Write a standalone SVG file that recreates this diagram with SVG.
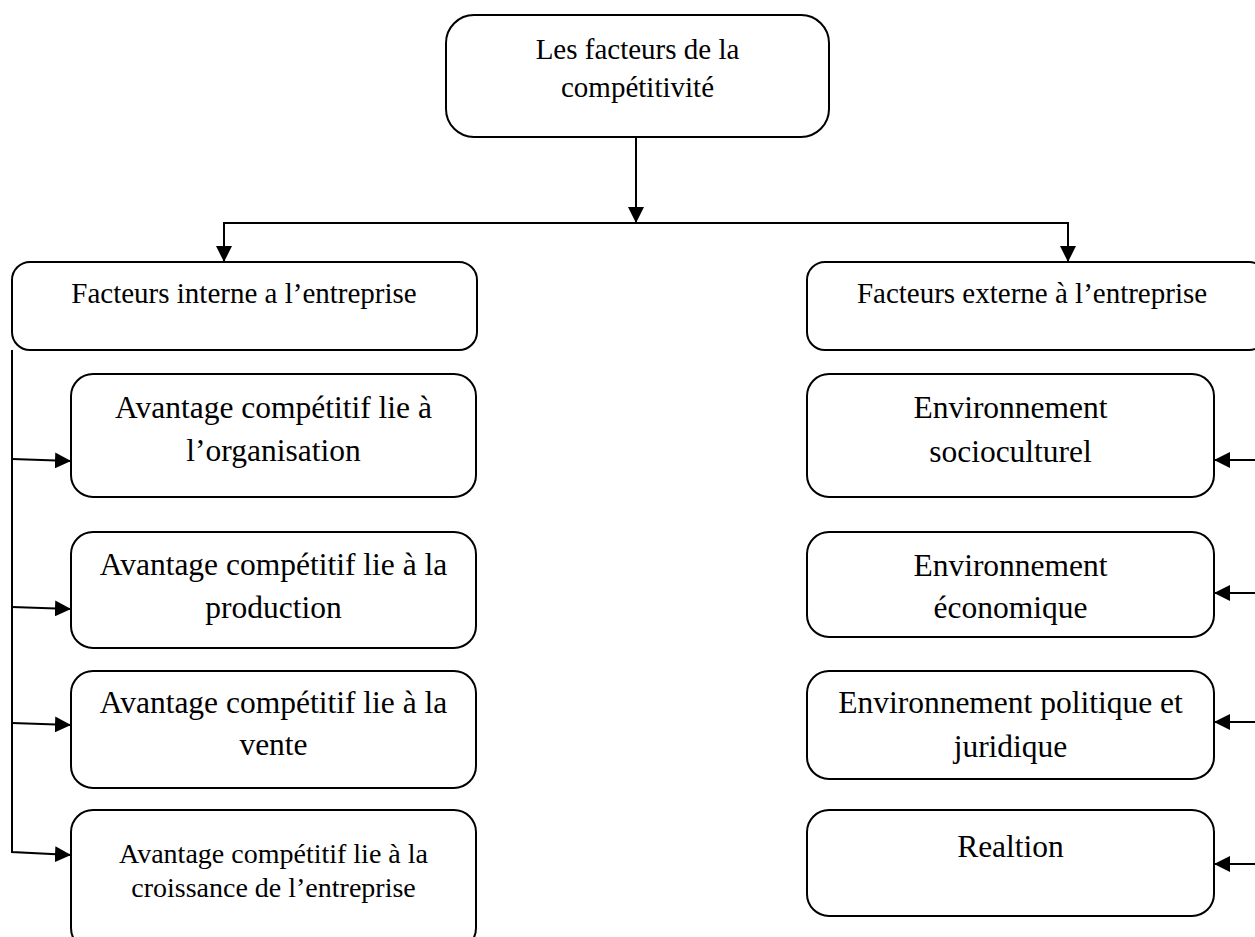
<svg xmlns="http://www.w3.org/2000/svg" width="1255" height="937" viewBox="0 0 1255 937">
<defs>
<marker id="ah" markerUnits="userSpaceOnUse" markerWidth="16" markerHeight="16" viewBox="0 0 16 16" refX="16" refY="8" orient="auto">
<path d="M0,0 L16,8 L0,16 Z" fill="#000"/>
</marker>
</defs>
<style>
.box{fill:#fff;stroke:#000;stroke-width:2}
.t{font-family:"Liberation Serif","Times New Roman",serif;fill:#000;text-anchor:middle}
.con{fill:none;stroke:#000;stroke-width:2}
</style>
<rect width="1255" height="937" fill="#fff"/>
<g id="top">
<rect class="box" x="446" y="15" width="383" height="122" rx="28"/>
<text class="t" x="637.5" y="59" font-size="29">Les facteurs de la</text>
<text class="t" x="637.5" y="97" font-size="29">compétitivité</text>
</g>
<g id="interne">
<rect class="box" x="12" y="262" width="465" height="88" rx="18"/>
<text class="t" x="244" y="303" font-size="29">Facteurs interne a l’entreprise</text>
</g>
<g id="externe">
<rect class="box" x="807" y="262" width="460" height="88" rx="18"/>
<text class="t" x="1032" y="303" font-size="29">Facteurs externe à l’entreprise</text>
</g>
<g id="organisation">
<rect class="box" x="71" y="374" width="405" height="123" rx="22"/>
<text class="t" x="273.5" y="418" font-size="31.5">Avantage compétitif lie à</text>
<text class="t" x="273.5" y="461" font-size="31.5">l’organisation</text>
</g>
<g id="production">
<rect class="box" x="71" y="532" width="405" height="116" rx="22"/>
<text class="t" x="273.5" y="575" font-size="31.5">Avantage compétitif lie à la</text>
<text class="t" x="273.5" y="618" font-size="31.5">production</text>
</g>
<g id="vente">
<rect class="box" x="71" y="671" width="405" height="117" rx="22"/>
<text class="t" x="273.5" y="713" font-size="31.5">Avantage compétitif lie à la</text>
<text class="t" x="273.5" y="755" font-size="31.5">vente</text>
</g>
<g id="croissance">
<rect class="box" x="71" y="810" width="405" height="140" rx="22"/>
<text class="t" x="273.5" y="863" font-size="28">Avantage compétitif lie à la</text>
<text class="t" x="273.5" y="897" font-size="28">croissance de l’entreprise</text>
</g>
<g id="socioculturel">
<rect class="box" x="807" y="374" width="407" height="123" rx="22"/>
<text class="t" x="1010.5" y="418" font-size="31.5">Environnement</text>
<text class="t" x="1010.5" y="462" font-size="31.5">socioculturel</text>
</g>
<g id="economique">
<rect class="box" x="807" y="532" width="407" height="105" rx="22"/>
<text class="t" x="1010.5" y="576" font-size="31.5">Environnement</text>
<text class="t" x="1010.5" y="618" font-size="31.5">économique</text>
</g>
<g id="politique">
<rect class="box" x="807" y="671" width="407" height="108" rx="22"/>
<text class="t" x="1010.5" y="713" font-size="31.5">Environnement politique et</text>
<text class="t" x="1010.5" y="757" font-size="31.5">juridique</text>
</g>
<g id="relation">
<rect class="box" x="807" y="810" width="407" height="106" rx="22"/>
<text class="t" x="1010.5" y="857" font-size="31.5">Realtion</text>
</g>
<g id="connectors">
<path class="con" d="M636,137 V223" marker-end="url(#ah)"/>
<path class="con" d="M224,262 V223 H1068 V262" />
<path class="con" d="M224,223 V262" marker-end="url(#ah)"/>
<path class="con" d="M1068,223 V262" marker-end="url(#ah)"/>
<path class="con" d="M12,350 V852 L71,855" marker-end="url(#ah)"/>
<path class="con" d="M12,459 L71,461" marker-end="url(#ah)"/>
<path class="con" d="M12,607 L71,609" marker-end="url(#ah)"/>
<path class="con" d="M12,723 L71,725" marker-end="url(#ah)"/>
<path class="con" d="M1255,460 H1214" marker-end="url(#ah)"/>
<path class="con" d="M1255,593 H1214" marker-end="url(#ah)"/>
<path class="con" d="M1255,722 H1214" marker-end="url(#ah)"/>
<path class="con" d="M1255,864 H1214" marker-end="url(#ah)"/>
</g>
</svg>
